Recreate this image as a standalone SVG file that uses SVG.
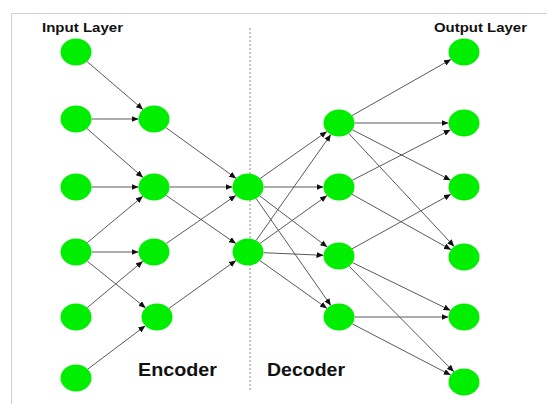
<svg xmlns="http://www.w3.org/2000/svg" width="547" height="404" viewBox="0 0 547 404">
  <style>
    .frame { fill: none; stroke: #cfcfcf; stroke-width: 1; }
    .divider { stroke: #8a8a8a; stroke-width: 1; stroke-dasharray: 2 2; }
    .node ellipse { fill: #00ee00; }
    .edge { stroke: #5a5a5a; stroke-width: 1; fill: none; marker-end: url(#arrow); }
    .title { font-family: "Liberation Sans", Arial, sans-serif; font-weight: bold; font-size: 12.5px; fill: #111; }
    .section { font-family: "Liberation Sans", Arial, sans-serif; font-weight: bold; font-size: 18px; fill: #111; }
  </style>
  <defs>
    <marker id="arrow" markerUnits="userSpaceOnUse" markerWidth="7" markerHeight="6" refX="7" refY="3" orient="auto">
      <path d="M0,0 L7,3 L0,6 z" fill="#111"/>
    </marker>
  </defs>

  <rect width="547" height="404" fill="#fff"/>
  <path class="frame" d="M11.5,404 V13.5 H547"/>
  <line class="divider" x1="250" y1="28" x2="250" y2="390"/>

  <!-- labels -->
  <text class="title" x="42" y="32" textLength="81" lengthAdjust="spacingAndGlyphs">Input Layer</text>
  <text class="title" x="434" y="32" textLength="93" lengthAdjust="spacingAndGlyphs">Output Layer</text>
  <text class="section" x="138" y="376" textLength="79" lengthAdjust="spacingAndGlyphs">Encoder</text>
  <text class="section" x="267" y="376" textLength="78" lengthAdjust="spacingAndGlyphs">Decoder</text>

  <!-- connectors -->
  <g id="connectors">
    <!-- input to encoder -->
    <line class="edge" x1="87.0" y1="61.5" x2="143.0" y2="109.5"/>
    <line class="edge" x1="91.5" y1="119" x2="138.5" y2="119"/>
    <line class="edge" x1="87.0" y1="128.6" x2="143.0" y2="177.4"/>
    <line class="edge" x1="91.5" y1="187" x2="138.5" y2="187"/>
    <line class="edge" x1="87.2" y1="242.7" x2="142.8" y2="196.3"/>
    <line class="edge" x1="91.5" y1="252" x2="138.5" y2="252"/>
    <line class="edge" x1="87.4" y1="261.2" x2="145.6" y2="307.9"/>
    <line class="edge" x1="87.2" y1="307.7" x2="142.8" y2="261.3"/>
    <line class="edge" x1="87.7" y1="369.2" x2="145.3" y2="325.8"/>
    <!-- encoder to bottleneck -->
    <line class="edge" x1="165.9" y1="127.6" x2="236.1" y2="178.4"/>
    <line class="edge" x1="169.5" y1="187" x2="232.5" y2="187"/>
    <line class="edge" x1="166.1" y1="195.4" x2="235.9" y2="243.6"/>
    <line class="edge" x1="166.1" y1="243.6" x2="235.9" y2="195.4"/>
    <line class="edge" x1="169.0" y1="308.4" x2="236.0" y2="260.4"/>
    <!-- bottleneck to decoder -->
    <line class="edge" x1="260.1" y1="178.5" x2="326.9" y2="131.5"/>
    <line class="edge" x1="263.5" y1="187" x2="323.5" y2="187"/>
    <line class="edge" x1="259.7" y1="195.9" x2="327.3" y2="247.1"/>
    <line class="edge" x1="256.1" y1="198.5" x2="330.9" y2="305.5"/>
    <line class="edge" x1="256.1" y1="240.5" x2="330.9" y2="134.5"/>
    <line class="edge" x1="260.0" y1="243.4" x2="327.0" y2="195.6"/>
    <line class="edge" x1="263.5" y1="252.7" x2="323.5" y2="255.3"/>
    <line class="edge" x1="260.0" y1="260.6" x2="327.0" y2="308.4"/>
    <!-- decoder to output -->
    <line class="edge" x1="352.0" y1="115.6" x2="451.0" y2="59.4"/>
    <line class="edge" x1="354.5" y1="123" x2="448.5" y2="123"/>
    <line class="edge" x1="352.4" y1="129.8" x2="450.6" y2="180.2"/>
    <line class="edge" x1="348.8" y1="133.5" x2="454.2" y2="246.5"/>
    <line class="edge" x1="352.4" y1="180.2" x2="450.6" y2="129.8"/>
    <line class="edge" x1="352.0" y1="194.3" x2="451.0" y2="249.7"/>
    <line class="edge" x1="352.1" y1="248.8" x2="450.9" y2="194.2"/>
    <line class="edge" x1="352.5" y1="262.6" x2="450.5" y2="310.4"/>
    <line class="edge" x1="349.1" y1="266.2" x2="453.9" y2="371.8"/>
    <line class="edge" x1="354.5" y1="317" x2="448.5" y2="317"/>
    <line class="edge" x1="352.3" y1="323.9" x2="450.7" y2="375.1"/>
  </g>

  <!-- input layer -->
  <g id="in1" class="node"><ellipse cx="76" cy="52" rx="15.5" ry="13.5"/></g>
  <g id="in2" class="node"><ellipse cx="76" cy="119" rx="15.5" ry="13.5"/></g>
  <g id="in3" class="node"><ellipse cx="76" cy="187" rx="15.5" ry="13.5"/></g>
  <g id="in4" class="node"><ellipse cx="76" cy="252" rx="15.5" ry="13.5"/></g>
  <g id="in5" class="node"><ellipse cx="76" cy="317" rx="15.5" ry="13.5"/></g>
  <g id="in6" class="node"><ellipse cx="76" cy="378" rx="15.5" ry="13.5"/></g>
  <!-- encoder layer -->
  <g id="enc1" class="node"><ellipse cx="154" cy="119" rx="15.5" ry="13.5"/></g>
  <g id="enc2" class="node"><ellipse cx="154" cy="187" rx="15.5" ry="13.5"/></g>
  <g id="enc3" class="node"><ellipse cx="154" cy="252" rx="15.5" ry="13.5"/></g>
  <g id="enc4" class="node"><ellipse cx="157" cy="317" rx="15.5" ry="13.5"/></g>
  <!-- bottleneck -->
  <g id="code1" class="node"><ellipse cx="248" cy="187" rx="15.5" ry="13.5"/></g>
  <g id="code2" class="node"><ellipse cx="248" cy="252" rx="15.5" ry="13.5"/></g>
  <!-- decoder layer -->
  <g id="dec1" class="node"><ellipse cx="339" cy="123" rx="15.5" ry="13.5"/></g>
  <g id="dec2" class="node"><ellipse cx="339" cy="187" rx="15.5" ry="13.5"/></g>
  <g id="dec3" class="node"><ellipse cx="339" cy="256" rx="15.5" ry="13.5"/></g>
  <g id="dec4" class="node"><ellipse cx="339" cy="317" rx="15.5" ry="13.5"/></g>
  <!-- output layer -->
  <g id="out1" class="node"><ellipse cx="464" cy="52" rx="15.5" ry="13.5"/></g>
  <g id="out2" class="node"><ellipse cx="464" cy="123" rx="15.5" ry="13.5"/></g>
  <g id="out3" class="node"><ellipse cx="464" cy="187" rx="15.5" ry="13.5"/></g>
  <g id="out4" class="node"><ellipse cx="464" cy="257" rx="15.5" ry="13.5"/></g>
  <g id="out5" class="node"><ellipse cx="464" cy="317" rx="15.5" ry="13.5"/></g>
  <g id="out6" class="node"><ellipse cx="464" cy="382" rx="15.5" ry="13.5"/></g>
</svg>
